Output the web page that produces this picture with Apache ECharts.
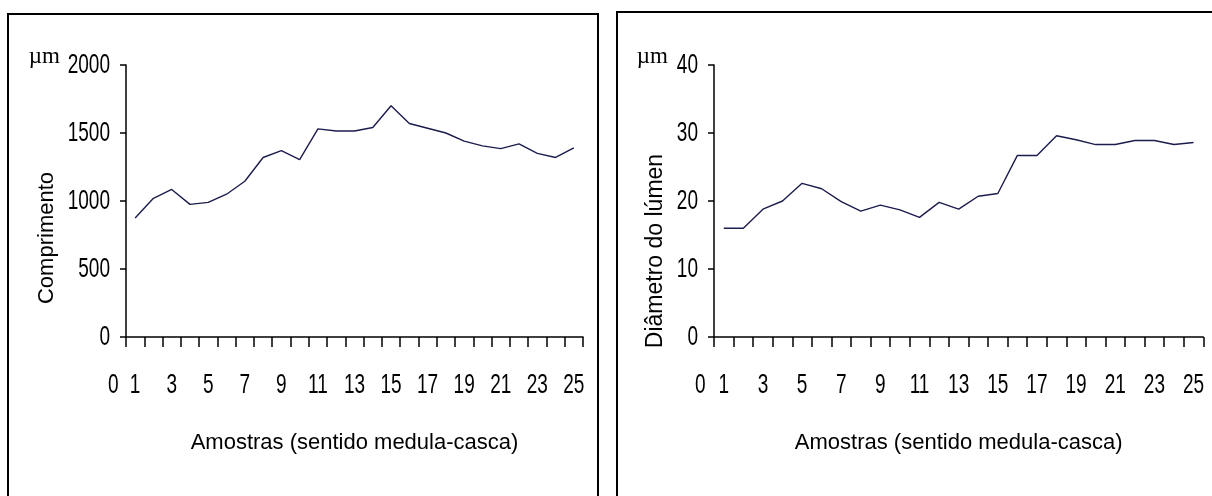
<!DOCTYPE html>
<html>
<head>
<meta charset="utf-8">
<script src="https://cdn.jsdelivr.net/npm/echarts@6/dist/echarts.min.js"></script>
<style>
html,body{margin:0;padding:0;background:#fff;}
#c{width:1212px;height:496px;}
</style>
</head>
<body>
<div id="c"></div>
<script>
// ---- data ----
const categories = ['1','2','3','4','5','6','7','8','9','10','11','12','13','14','15','16','17','18','19','20','21','22','23','24','25'];
const comprimento = [875,1020,1085,975,990,1050,1145,1320,1370,1305,1530,1515,1515,1540,1700,1570,1535,1500,1440,1405,1385,1420,1350,1320,1390];
const diametro = [16,16,18.8,20,22.6,21.8,19.9,18.5,19.4,18.7,17.6,19.8,18.8,20.7,21.1,26.7,26.7,29.6,29.0,28.3,28.3,28.9,28.9,28.3,28.6];
const leftAxisName = 'Comprimento';
const rightAxisName = 'Diâmetro do lúmen';
const xAxisName = 'Amostras (sentido medula-casca)';
const unitLabel = 'µm';
const extraXLabel = '0';
const leftMax = 2000, leftInterval = 500;
const rightMax = 40, rightInterval = 10;

const numFont = '"Liberation Sans",Arial,sans-serif';
const txtFont = '"Liberation Sans",Arial,sans-serif';
const numSize = 28;
const squeeze = 0.68;

function yAxisCfg(idx, max, interval, name, namePad, gap, nameSize){
  return {
    type:'value', gridIndex:idx, min:0, max:max, interval:interval,
    name:name, nameLocation:'middle', nameGap:gap, nameMoveOverlap:false,
    nameTextStyle:{fontFamily:txtFont,fontSize:nameSize,color:'#000',padding:namePad},
    axisLine:{show:true,lineStyle:{color:'#000',width:1.5}},
    axisTick:{show:true,length:6,lineStyle:{color:'#000',width:1.5}},
    splitLine:{show:false},
    axisLabel:{margin:16,fontFamily:numFont,fontSize:numSize,color:'#000',
      formatter:function(v){return String(v);}}
  };
}
function xAxisCfg(idx){
  return {
    type:'category', gridIndex:idx, data:categories, boundaryGap:true,
    name:xAxisName, nameLocation:'middle', nameGap:95,
    nameTextStyle:{fontFamily:txtFont,fontSize:22,color:'#000'},
    axisLine:{show:true,lineStyle:{color:'#000',width:1.5}},
    axisTick:{show:true,interval:0,length:10,lineStyle:{color:'#000',width:1.5}},
    axisLabel:{interval:1,margin:34,fontFamily:numFont,fontSize:numSize,color:'#000'}
  };
}

const chart = echarts.init(document.getElementById('c'), null, {renderer:'canvas'});
const baseGraphics = [
  {type:'rect',shape:{x:8,y:14,width:590,height:600},style:{fill:'none',stroke:'#000',lineWidth:2},silent:true},
  {type:'rect',shape:{x:617,y:12,width:700,height:600},style:{fill:'none',stroke:'#000',lineWidth:2},silent:true}
];
const option = {
  animation:false,
  backgroundColor:'#fff',
  grid:[
    {left:126,top:65,width:457,height:272},
    {left:714,top:65,width:495,height:272}
  ],
  xAxis:[xAxisCfg(0),xAxisCfg(1)],
  yAxis:[
    yAxisCfg(0,leftMax,leftInterval,leftAxisName,[0,74,0,0],68,22),
    yAxisCfg(1,rightMax,rightInterval,rightAxisName,[0,100,0,0],47,23)
  ],
  series:[
    {type:'line',xAxisIndex:0,yAxisIndex:0,data:comprimento,showSymbol:false,symbol:'none',lineStyle:{color:'#1c1c4e',width:1.4},itemStyle:{color:'#1c1c4e'}},
    {type:'line',xAxisIndex:1,yAxisIndex:1,data:diametro,showSymbol:false,symbol:'none',lineStyle:{color:'#1c1c4e',width:1.4},itemStyle:{color:'#1c1c4e'}}
  ],
  graphic:baseGraphics
};
chart.setOption(option);

// extra "0" label and unit labels, positioned from the axis scales
const extra = [];
const unitOffset = [66, 46];
[0,1].forEach(function(g){
  const p0 = chart.convertToPixel({gridIndex:g},[0,0]);
  const p1 = chart.convertToPixel({gridIndex:g},[1,0]);
  const step = p1[0]-p0[0];
  const axisX = p0[0] - step/2;
  const topY = chart.convertToPixel({gridIndex:g},[0, g===0?leftMax:rightMax])[1];
  extra.push({type:'text',x:p0[0]-1.2*step,y:p0[1]+34,silent:true,
    style:{text:extraXLabel,fontFamily:numFont,fontSize:numSize,fill:'#000',align:'center',verticalAlign:'top'}});
  extra.push({type:'text',x:axisX-unitOffset[g],y:topY-8,silent:true,
    style:{text:unitLabel,fontFamily:'"Liberation Serif","Times New Roman",serif',fontSize:23,fill:'#000',align:'right',verticalAlign:'middle'}});
});
chart.setOption({graphic:baseGraphics.concat(extra)});

// condense the numeric labels horizontally (narrow face like the original)
function condense(){
  const zr = chart.getZr();
  zr.storage.getRoots().forEach(function(root){
    const visit = function(el){
      if (el.type === 'text' && el.style && /^\d+$/.test(String(el.style.text))) {
        el.scaleX = squeeze;
        el.markRedraw && el.markRedraw();
      }
    };
    visit(root);
    if (root.traverse) root.traverse(visit);
  });
  zr.refresh();
}
condense();
</script>
</body>
</html>
